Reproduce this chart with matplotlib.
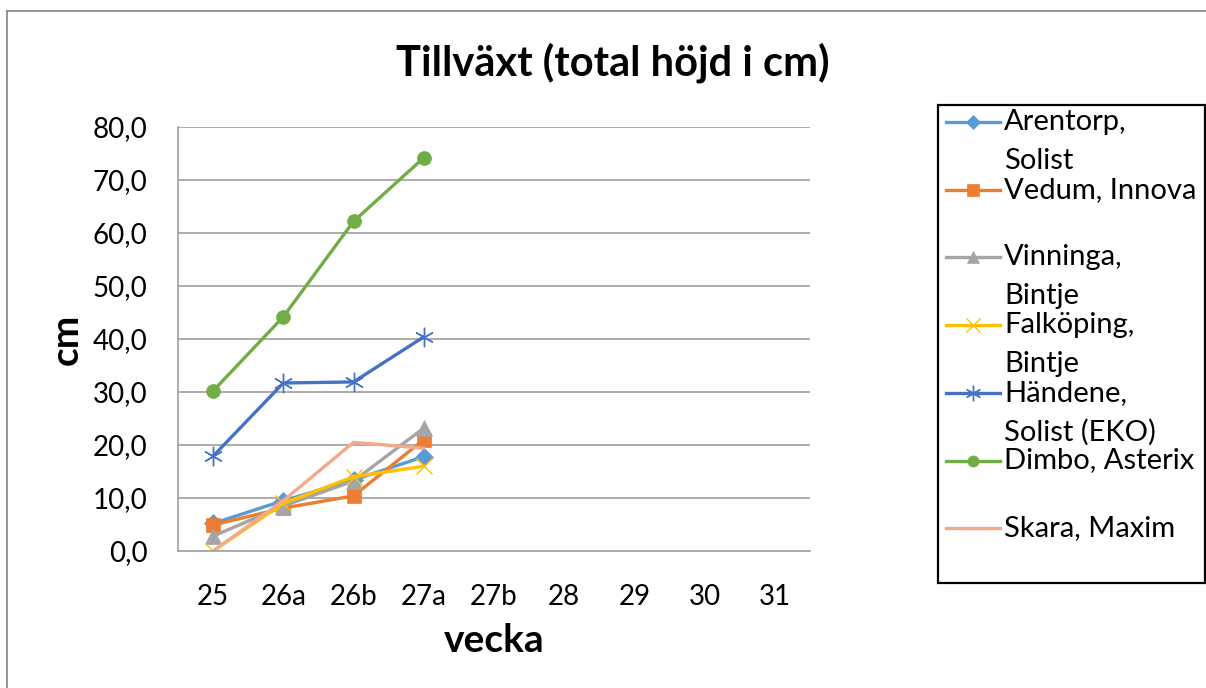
import numpy as np
import matplotlib
matplotlib.use("Agg")
import matplotlib.pyplot as plt
from matplotlib.lines import Line2D
from matplotlib.patches import Rectangle

plt.rcParams['font.family'] = ['Lato', 'DejaVu Sans']

# data
weeks = ["25", "26a", "26b", "27a", "27b", "28", "29", "30", "31"]
nan = np.nan
arentorp = [5.2, 9.5, 13.4, 17.8, nan, nan, nan, nan, nan]
vedum = [4.9, 8.1, 10.4, 21.0, nan, nan, nan, nan, nan]
vinninga = [2.8, 8.5, 13.2, 23.2, nan, nan, nan, nan, nan]
falkoping = [0.0, 9.0, 14.0, 16.0, nan, nan, nan, nan, nan]
handene = [17.9, 31.7, 31.9, 40.4, nan, nan, nan, nan, nan]
dimbo = [30.2, 44.2, 62.2, 74.2, nan, nan, nan, nan, nan]
skara = [0.0, 9.5, 20.5, 19.4, nan, nan, nan, nan, nan]

series = [
    (arentorp, ["Arentorp,", "Solist"], "#5B9BD5", "D", 9),
    (vedum, ["Vedum, Innova", ""], "#ED7D31", "s", 10),
    (vinninga, ["Vinninga,", "Bintje"], "#A5A5A5", "^", 11),
    (falkoping, ["Falköping,", "Bintje"], "#FFC000", "x", 12),
    (handene, ["Händene,", "Solist (EKO)"], "#4472C4", (6, 2, 0), 14),
    (dimbo, ["Dimbo, Asterix", ""], "#70AD47", "o", 10),
    (skara, ["Skara, Maxim", ""], "#F4A98A", None, 0),
]

W, H = 1206, 688
fig = plt.figure(figsize=(W / 100, H / 100), dpi=100)

def fx(px):
    return px / W

def fy(py):
    return 1 - py / H

ax = fig.add_axes([fx(178), fy(551), fx(810) - fx(178), fy(127) - fy(551)])
x = np.arange(len(weeks))

lines = []
for vals, lab, col, mk, ms in series:
    ln, = ax.plot(x, vals, color=col, lw=2.4, marker=mk, markersize=ms,
                  markeredgewidth=1.0 if mk in ("x", (6, 2, 0)) else 0.5)
    lines.append(ln)

ax.set_xlim(-0.5, len(weeks) - 0.5)
ax.set_ylim(0, 80)
ax.set_yticks(np.arange(0, 81, 10))
ax.set_yticklabels([f"{v:.1f}".replace(".", ",") for v in np.arange(0, 81, 10)])
ax.set_xticks(x)
ax.set_xticklabels(weeks)
ax.tick_params(length=0, labelsize=20, colors="black")
ax.tick_params(axis="x", pad=24)
ax.tick_params(axis="y", pad=22)
ax.grid(axis="y", color="#A6A6A6", lw=1.3)
ax.set_axisbelow(True)
for s in ["top", "right"]:
    ax.spines[s].set_visible(False)
for s in ["left", "bottom"]:
    ax.spines[s].set_color("#A6A6A6")
    ax.spines[s].set_linewidth(1.3)

fig.text(fx(613), fy(63), "Tillväxt (total höjd i cm)", ha="center", va="center",
         fontsize=30, fontweight="bold")
fig.text(fx(494), fy(640), "vecka", ha="center", va="center",
         fontsize=28, fontweight="bold")
fig.text(fx(66), fy(339), "cm", ha="center", va="center", rotation=90,
         fontsize=28, fontweight="bold")

# figure frame
fig.add_artist(Line2D([fx(7), fx(7)], [fy(11), 0], color="#8C8C8C", lw=1.3))
fig.add_artist(Line2D([fx(7), 1], [fy(11), fy(11)], color="#8C8C8C", lw=1.3))

# legend drawn by hand so the key sits on the first line of each label
fig.add_artist(Rectangle((fx(938), fy(583)), fx(1205) - fx(938), fy(105) - fy(583),
                         transform=fig.transFigure, fill=False, edgecolor="black", lw=1.6))
for i, (vals, lab, col, mk, ms) in enumerate(series):
    y0 = 122 + i * 67.7
    fig.add_artist(Line2D([fx(946), fx(1000)], [fy(y0), fy(y0)], color=col, lw=2.4))
    if mk is not None:
        fig.add_artist(Line2D([fx(973)], [fy(y0)], color=col, marker=mk,
                              markersize=ms * 0.8, lw=0,
                              markeredgewidth=lines[i].get_markeredgewidth()))
    fig.text(fx(1004), fy(y0), lab[0], ha="left", va="center", fontsize=21)
    if lab[1]:
        fig.text(fx(1004), fy(y0 + 39), lab[1], ha="left", va="center", fontsize=21)

fig.savefig("out.png", dpi=100)
